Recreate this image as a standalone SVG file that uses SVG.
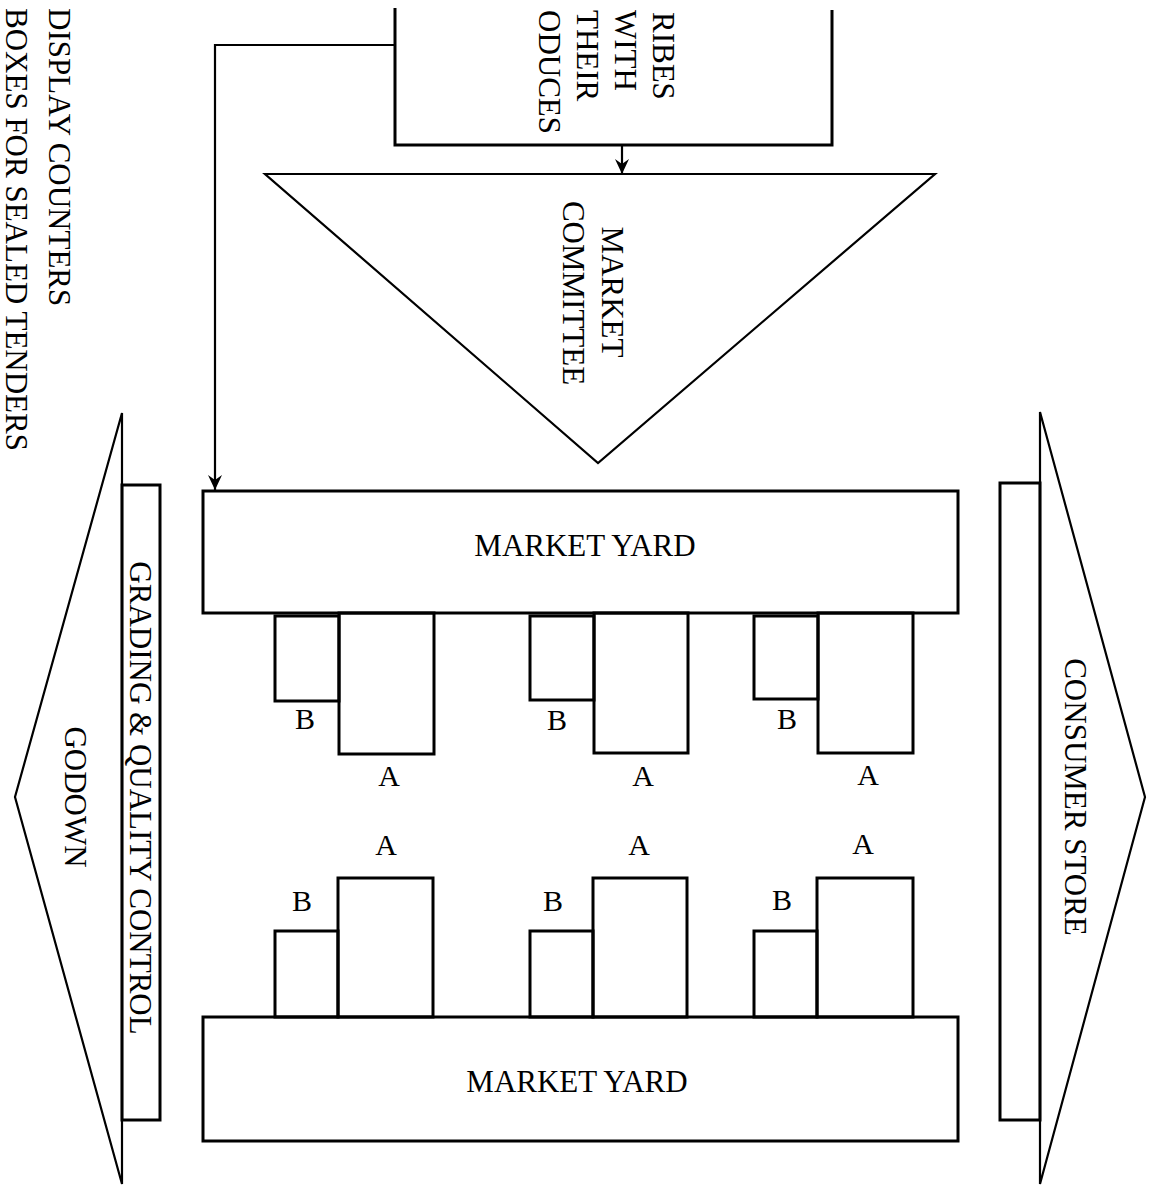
<svg xmlns="http://www.w3.org/2000/svg" width="1150" height="1187" viewBox="0 0 1150 1187">
<style>
.s{fill:none;stroke:#000;stroke-width:3}
.t{fill:none;stroke:#000;stroke-width:2.2}
text{font-family:"Liberation Serif","Times New Roman",serif;font-size:31px;fill:#000}
.lbl{font-size:30px;text-anchor:middle}
.mid{text-anchor:middle}
</style>
<defs>
<marker id="ah" markerWidth="16" markerHeight="14" refX="15" refY="7" orient="auto" markerUnits="userSpaceOnUse">
<path d="M0,0 L15,7 L0,14 L5,7 Z" fill="#000"/>
</marker>
</defs>
<rect width="1150" height="1187" fill="#fff"/>

<g id="left-notes">
<text transform="translate(49,8) rotate(90)">DISPLAY COUNTERS</text>
<text transform="translate(6,8) rotate(90)">BOXES FOR SEALED TENDERS</text>
</g>

<g id="tribes">
<path class="s" d="M395,8 V145 H832 V10"/>
<text transform="translate(653,12) rotate(90)">RIBES</text>
<text transform="translate(615,10) rotate(90)">WITH</text>
<text transform="translate(577,10) rotate(90)">THEIR</text>
<text transform="translate(539,10) rotate(90)">ODUCES</text>
</g>

<g id="market-committee">
<polygon class="t" points="265,174 935,174 598,463"/>
<text class="mid" transform="translate(602,292) rotate(90)">MARKET</text>
<text class="mid" transform="translate(563,293) rotate(90)">COMMITTEE</text>
</g>

<g id="godown">
<polygon class="t" points="122,413 15,797 122,1184"/>
<text class="mid" transform="translate(65,797) rotate(90)">GODOWN</text>
</g>
<g id="grading">
<rect class="s" x="122" y="485" width="38" height="635"/>
<text class="mid" transform="translate(130,798) rotate(90)">GRADING &amp; QUALITY CONTROL</text>
</g>

<g id="consumer-store">
<polygon class="t" points="1040,412 1145,797 1040,1184"/>
<text class="mid" transform="translate(1065,797) rotate(90)">CONSUMER STORE</text>
</g>
<g id="consumer-bar">
<rect class="s" x="1000" y="483" width="40" height="637"/>
</g>

<g id="market-yard-1">
<rect class="s" x="203" y="491" width="755" height="122"/>
<text class="mid" x="585" y="556">MARKET YARD</text>
</g>
<g id="market-yard-2">
<rect class="s" x="203" y="1017" width="755" height="124"/>
<text class="mid" x="577" y="1092">MARKET YARD</text>
</g>

<g id="upper-counter-1">
<rect class="s" x="275" y="616" width="64" height="85"/>
<rect class="s" x="339" y="613" width="95" height="141"/>
<text class="lbl" x="305" y="729">B</text>
<text class="lbl" x="389" y="786">A</text>
</g>
<g id="upper-counter-2">
<rect class="s" x="530" y="616" width="64" height="84"/>
<rect class="s" x="594" y="613" width="94" height="140"/>
<text class="lbl" x="557" y="730">B</text>
<text class="lbl" x="643" y="786">A</text>
</g>
<g id="upper-counter-3">
<rect class="s" x="754" y="616" width="64" height="83"/>
<rect class="s" x="818" y="613" width="95" height="140"/>
<text class="lbl" x="787" y="729">B</text>
<text class="lbl" x="868" y="785">A</text>
</g>

<g id="lower-counter-1">
<rect class="s" x="275" y="931" width="63" height="86"/>
<rect class="s" x="338" y="878" width="95" height="139"/>
<text class="lbl" x="302" y="911">B</text>
<text class="lbl" x="386" y="855">A</text>
</g>
<g id="lower-counter-2">
<rect class="s" x="530" y="931" width="63" height="86"/>
<rect class="s" x="593" y="878" width="94" height="139"/>
<text class="lbl" x="553" y="911">B</text>
<text class="lbl" x="639" y="855">A</text>
</g>
<g id="lower-counter-3">
<rect class="s" x="754" y="931" width="63" height="86"/>
<rect class="s" x="817" y="878" width="96" height="139"/>
<text class="lbl" x="782" y="910">B</text>
<text class="lbl" x="863" y="854">A</text>
</g>

<g id="connectors">
<path class="t" d="M395,45 H215 V490" marker-end="url(#ah)"/>
<path class="t" d="M622,145 V174" marker-end="url(#ah)"/>
</g>
</svg>
